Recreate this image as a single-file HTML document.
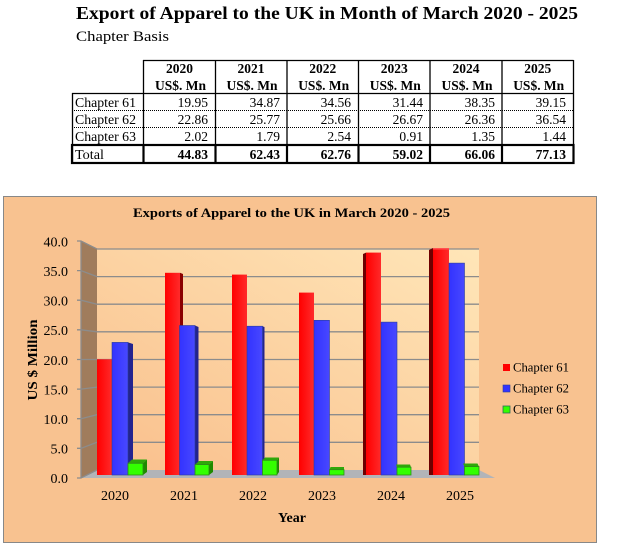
<!DOCTYPE html>
<html><head><meta charset="utf-8"><style>
html,body{margin:0;padding:0;background:#fff;}
svg{display:block;}
text{font-family:"Liberation Serif",serif;fill:#000;}
</style></head><body>
<svg width="619" height="555" viewBox="0 0 619 555" xmlns="http://www.w3.org/2000/svg">
<defs>
<linearGradient id="wall" x1="0" y1="1" x2="1" y2="0">
<stop offset="0" stop-color="#F9BF8C"/><stop offset="1" stop-color="#FFE6B8"/>
</linearGradient>
<linearGradient id="red" x1="0" y1="0" x2="1" y2="0">
<stop offset="0" stop-color="#FF0000"/><stop offset="1" stop-color="#FF2A2A"/>
</linearGradient>
<linearGradient id="blue" x1="0" y1="0" x2="1" y2="0">
<stop offset="0" stop-color="#3333FF"/><stop offset="1" stop-color="#4848FF"/>
</linearGradient>
</defs>
<rect width="619" height="555" fill="#fff"/>
<!-- Heading -->
<text x="76" y="19" font-size="17.5" font-weight="bold" textLength="502" lengthAdjust="spacingAndGlyphs">Export of Apparel to the UK in Month of March 2020 - 2025</text>
<text x="76" y="41" font-size="14.5" textLength="93" lengthAdjust="spacingAndGlyphs">Chapter Basis</text>

<!-- Table lines -->
<g stroke="#000" stroke-width="1.3" fill="none">
<line x1="143" y1="60.5" x2="573.5" y2="60.5"/>
<line x1="72" y1="93.5" x2="573.5" y2="93.5"/>
<line x1="72.5" y1="93" x2="72.5" y2="163"/>
<line x1="143.5" y1="60" x2="143.5" y2="163"/>
<line x1="215.5" y1="60" x2="215.5" y2="163"/>
<line x1="287" y1="60" x2="287" y2="163"/>
<line x1="358.5" y1="60" x2="358.5" y2="163"/>
<line x1="430" y1="60" x2="430" y2="163"/>
<line x1="502" y1="60" x2="502" y2="163"/>
<line x1="573.5" y1="60" x2="573.5" y2="163"/>
</g>
<g stroke="#000" stroke-width="1" stroke-dasharray="1,1">
<line x1="72" y1="110.5" x2="573" y2="110.5"/>
<line x1="72" y1="127.5" x2="573" y2="127.5"/>
</g>
<g stroke="#000" stroke-width="2.2" fill="none">
<rect x="72" y="145" width="501.5" height="18"/>
<line x1="143.5" y1="145" x2="143.5" y2="163"/>
<line x1="215.5" y1="145" x2="215.5" y2="163"/>
<line x1="287" y1="145" x2="287" y2="163"/>
<line x1="358.5" y1="145" x2="358.5" y2="163"/>
<line x1="430" y1="145" x2="430" y2="163"/>
<line x1="502" y1="145" x2="502" y2="163"/>
</g>
<!-- Table header -->
<g font-size="13.5" font-weight="bold" text-anchor="middle">
<text x="179.5" y="73">2020</text><text x="180.5" y="90" textLength="51" lengthAdjust="spacingAndGlyphs">US$. Mn</text>
<text x="251" y="73">2021</text><text x="252" y="90" textLength="51" lengthAdjust="spacingAndGlyphs">US$. Mn</text>
<text x="322.7" y="73">2022</text><text x="323.7" y="90" textLength="51" lengthAdjust="spacingAndGlyphs">US$. Mn</text>
<text x="394.3" y="73">2023</text><text x="395.3" y="90" textLength="51" lengthAdjust="spacingAndGlyphs">US$. Mn</text>
<text x="466" y="73">2024</text><text x="467" y="90" textLength="51" lengthAdjust="spacingAndGlyphs">US$. Mn</text>
<text x="537.7" y="73">2025</text><text x="538.7" y="90" textLength="51" lengthAdjust="spacingAndGlyphs">US$. Mn</text>
</g>
<g font-size="13.5">
<text x="75" y="107" textLength="61" lengthAdjust="spacingAndGlyphs">Chapter 61</text>
<text x="75" y="124" textLength="61" lengthAdjust="spacingAndGlyphs">Chapter 62</text>
<text x="75" y="141" textLength="61" lengthAdjust="spacingAndGlyphs">Chapter 63</text>
<text x="75" y="159" textLength="29" lengthAdjust="spacingAndGlyphs">Total</text>
</g>
<g font-size="13.5" text-anchor="end">
<text x="208" y="107">19.95</text><text x="280" y="107">34.87</text><text x="351" y="107">34.56</text><text x="423" y="107">31.44</text><text x="495" y="107">38.35</text><text x="566" y="107">39.15</text>
<text x="208" y="124">22.86</text><text x="280" y="124">25.77</text><text x="351" y="124">25.66</text><text x="423" y="124">26.67</text><text x="495" y="124">26.36</text><text x="566" y="124">36.54</text>
<text x="208" y="141">2.02</text><text x="280" y="141">1.79</text><text x="351" y="141">2.54</text><text x="423" y="141">0.91</text><text x="495" y="141">1.35</text><text x="566" y="141">1.44</text>
</g>
<g font-size="13.5" font-weight="bold" text-anchor="end">
<text x="208" y="159">44.83</text><text x="280" y="159">62.43</text><text x="351" y="159">62.76</text><text x="423" y="159">59.02</text><text x="495" y="159">66.06</text><text x="566" y="159">77.13</text>
</g>

<!-- Chart box -->
<rect x="3.5" y="196.5" width="593" height="346" fill="#F8C290" stroke="#888" stroke-width="1"/>
<text x="291.5" y="217" font-size="13" font-weight="bold" text-anchor="middle" textLength="317" lengthAdjust="spacingAndGlyphs">Exports of Apparel to the UK in March 2020 - 2025</text>

<!-- back wall -->
<rect x="97" y="249" width="382" height="221" fill="url(#wall)"/>
<!-- side wall -->
<polygon points="81,241 97,249 97,470 81,478" fill="#A07C5C"/>
<!-- floor -->
<polygon points="81,478 495,478 479,470 97,470" fill="#B2B4B8"/>
<!-- gridlines -->
<g stroke="#8C8C8C" stroke-width="1.3" fill="none">
<polyline points="77,241 81,241 97,249 479,249"/>
<polyline points="77,270.6 81,270.6 97,276.6 479,276.6"/>
<polyline points="77,300.2 81,300.2 97,304.2 479,304.2"/>
<polyline points="77,329.8 81,329.8 97,331.8 479,331.8"/>
<polyline points="77,359.5 81,359.5 97,359.5 479,359.5"/>
<polyline points="77,389.1 81,389.1 97,387.1 479,387.1"/>
<polyline points="77,418.7 81,418.7 97,414.7 479,414.7"/>
<polyline points="77,448.3 81,448.3 97,442.3 479,442.3"/>
<polyline points="77,478 81,478 97,470"/>
<line x1="81" y1="241" x2="81" y2="478"/>
</g>

<!-- y tick labels -->
<g font-size="14" text-anchor="end">
<text x="68" y="246.5">40.0</text>
<text x="68" y="276">35.0</text>
<text x="68" y="305.5">30.0</text>
<text x="68" y="335">25.0</text>
<text x="68" y="365">20.0</text>
<text x="68" y="394.5">15.0</text>
<text x="68" y="424">10.0</text>
<text x="68" y="453.5">5.0</text>
<text x="68" y="483">0.0</text>
</g>
<text transform="translate(37,360) rotate(-90)" font-size="13.5" font-weight="bold" text-anchor="middle" textLength="81" lengthAdjust="spacingAndGlyphs">US $ Million</text>

<!-- Bars -->
<!-- 2020 -->
<rect x="97" y="359.3" width="15" height="115.7" fill="url(#red)"/>
<polygon points="128,342.4 133,344 133,475 128,475" fill="#23238F"/>
<rect x="112" y="342.4" width="16" height="132.6" fill="url(#blue)" stroke="#2A3F9A" stroke-width="0.6"/>
<polygon points="128,463.3 132,459.5 147,459.5 143,463.3" fill="#2FA80A"/>
<polygon points="143,463.3 147,459.5 147,472 143,475" fill="#1F8A00"/>
<rect x="128" y="463.3" width="15" height="11.7" fill="#33FF00" stroke="#2E8B1A" stroke-width="0.8"/>
<!-- 2021 -->
<polygon points="180,272.8 183,274 183,475 180,475" fill="#8B0000"/>
<rect x="165" y="272.8" width="15" height="202.2" fill="url(#red)"/>
<polygon points="195,325.5 198.5,327 198.5,475 195,475" fill="#23238F"/>
<rect x="179.5" y="325.5" width="15.5" height="149.5" fill="url(#blue)" stroke="#2A3F9A" stroke-width="0.6"/>
<polygon points="195,464.6 199,461 213,461 209,464.6" fill="#2FA80A"/>
<polygon points="209,464.6 213,461 213,472 209,475" fill="#1F8A00"/>
<rect x="195" y="464.6" width="14" height="10.4" fill="#33FF00" stroke="#2E8B1A" stroke-width="0.8"/>
<!-- 2022 -->
<rect x="232" y="274.6" width="15" height="200.4" fill="url(#red)"/>
<polygon points="262.5,326.2 264.5,327 264.5,475 262.5,475" fill="#23238F"/>
<rect x="247" y="326.2" width="15.5" height="148.8" fill="url(#blue)" stroke="#2A3F9A" stroke-width="0.6"/>
<polygon points="262.5,460.3 265,457.5 279,457.5 277,460.3" fill="#2FA80A"/>
<polygon points="277,460.3 279,457.5 279,472 277,475" fill="#1F8A00"/>
<rect x="262.5" y="460.3" width="14.5" height="14.7" fill="#33FF00" stroke="#2E8B1A" stroke-width="0.8"/>
<!-- 2023 -->
<rect x="299" y="292.6" width="15" height="182.4" fill="url(#red)"/>
<rect x="314" y="320.3" width="15.5" height="154.7" fill="url(#blue)" stroke="#2A3F9A" stroke-width="0.6"/>
<polygon points="329.5,469.7 330.5,467 344,467 344,469.7" fill="#2FA80A"/>
<rect x="329.5" y="469.7" width="14.5" height="5.3" fill="#33FF00" stroke="#2E8B1A" stroke-width="0.8"/>
<!-- 2024 -->
<polygon points="363,254 366,252.6 366,475 363,475" fill="#6E0000"/>
<rect x="366" y="252.6" width="15" height="222.4" fill="url(#red)"/>
<rect x="381" y="322.1" width="16" height="152.9" fill="url(#blue)" stroke="#2A3F9A" stroke-width="0.6"/>
<polygon points="397,467.2 396,464.5 410,464.5 411,467.2" fill="#2FA80A"/>
<rect x="397" y="467.2" width="14" height="7.8" fill="#33FF00" stroke="#2E8B1A" stroke-width="0.8"/>
<!-- 2025 -->
<polygon points="429,250 433,248 433,475 429,475" fill="#6E0000"/>
<rect x="433" y="248" width="16" height="227" fill="url(#red)"/>
<rect x="433" y="248" width="16" height="1.5" fill="#FF5050"/>
<rect x="449" y="263.1" width="15.5" height="211.9" fill="url(#blue)" stroke="#2A3F9A" stroke-width="0.6"/>
<polygon points="464.5,466.6 463,463.5 477.5,463.5 479,466.6" fill="#2FA80A"/>
<rect x="464.5" y="466.6" width="14.5" height="8.4" fill="#33FF00" stroke="#2E8B1A" stroke-width="0.8"/>

<!-- x labels -->
<g font-size="14" text-anchor="middle">
<text x="115" y="500">2020</text>
<text x="184" y="500">2021</text>
<text x="253" y="500">2022</text>
<text x="322" y="500">2023</text>
<text x="391" y="500">2024</text>
<text x="460" y="500">2025</text>
</g>
<text x="292" y="522" font-size="14" font-weight="bold" text-anchor="middle">Year</text>

<!-- legend -->
<rect x="503" y="364" width="7" height="7" fill="#FF0000"/>
<rect x="503" y="385" width="7" height="7" fill="#3333FF" stroke="#2A3F9A" stroke-width="0.6"/>
<rect x="503" y="406" width="7" height="7" fill="#33FF00" stroke="#2E6B5A" stroke-width="0.8"/>
<g font-size="12.5">
<text x="513" y="371.5" textLength="56" lengthAdjust="spacingAndGlyphs">Chapter 61</text>
<text x="513" y="392.5" textLength="56" lengthAdjust="spacingAndGlyphs">Chapter 62</text>
<text x="513" y="413.5" textLength="56" lengthAdjust="spacingAndGlyphs">Chapter 63</text>
</g>
</svg>
</body></html>
